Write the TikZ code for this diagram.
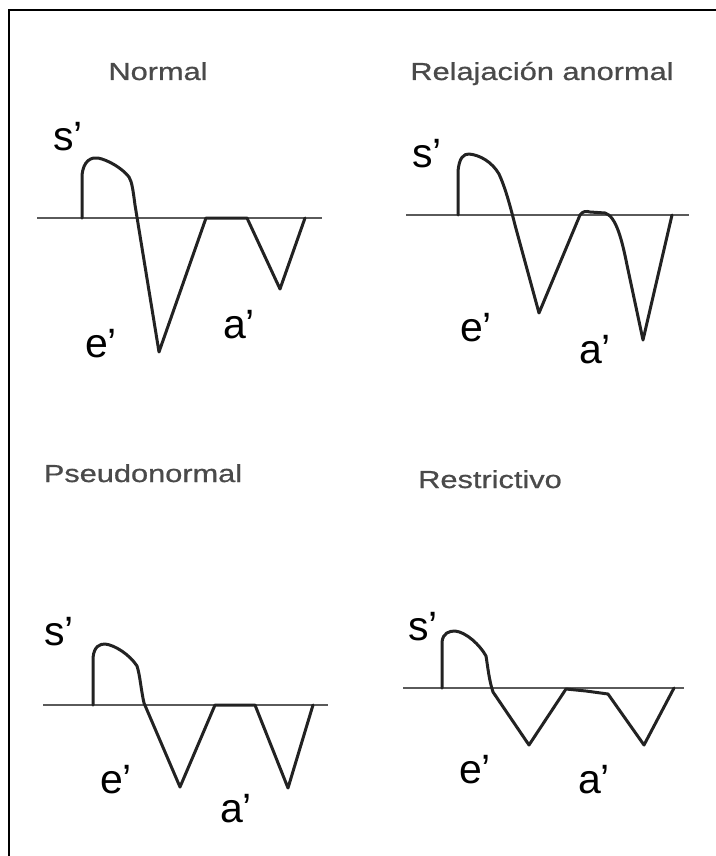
\documentclass[tikz,border=0pt]{standalone}
\usepackage{fontspec}
\setmainfont{Liberation Sans}
\newfontfamily\fuenteTitulo{Liberation Sans}[FakeBold=0.7]
\usetikzlibrary{positioning}
\definecolor{grisTitulo}{HTML}{4A4A4A}
\definecolor{grisEje}{HTML}{5A5A5A}
\definecolor{trazo}{HTML}{222222}

\begin{document}
\begin{tikzpicture}[x=0.5pt, y=-0.5pt,
		titulo/.style={anchor=base, inner sep=0pt, text=grisTitulo, xscale=1.25, font=\fuenteTitulo\fontsize{12.3}{14}\selectfont},
		onda/.style={anchor=base, inner sep=0pt, font=\fontsize{20.5}{24}\selectfont},
		eje/.style={grisEje, line width=1pt},
		curva/.style={trazo, line width=1.5pt, line join=round, line cap=round}]
			\useasboundingbox (0,0) rectangle (716,856);
			\draw[line width=1pt] (9,856) -- (9,10.5) -- (716,10.5);

			% Normal
			\node[titulo] (tNormal) at (158,80) {Normal};
			\draw[eje] (37,218) -- (322,218);
			\draw[curva] (82,218) -- (82,176) .. controls (83,160) and (92,157) .. (98,158)
				.. controls (108,160) and (122,168) .. (129,177)
				.. controls (132,182) and (133,190) .. (135,205)
				-- (159,352) -- (206,218) -- (247,218) -- (280,289) -- (305,218);
			\node[onda] (sNormal) at (68,150) {s’};
			\node[onda] (eNormal) at (101,357) {e’};
			\node[onda] (aNormal) at (239,338) {a’};

			% Relajacion anormal
			\node[titulo] (tRelajacion) at (542,80) {Relajación anormal};
			\draw[eje] (406,215) -- (689,215);
			\draw[curva] (458,215) -- (458,172) .. controls (459,157) and (464,154) .. (469,154)
				.. controls (480,155) and (492,162) .. (499,174)
				.. controls (505,187) and (510,205) .. (515,225)
				-- (539,313) -- (580,215) .. controls (583,211) and (586,211) .. (590,212)
				-- (605,213) .. controls (616,216) and (622,240) .. (627,265)
				-- (643,340) -- (672,215);
			\node[onda] (sRelajacion) at (427,167) {s’};
			\node[onda] (eRelajacion) at (476,341) {e’};
			\node[onda] (aRelajacion) at (595,363) {a’};

			% Pseudonormal
			\node[titulo] (tPseudo) at (143,482) {Pseudonormal};
			\draw[eje] (43,705) -- (328,705);
			\draw[curva] (93,705) -- (93,658) .. controls (94,646) and (100,644) .. (105,644)
				.. controls (115,645) and (130,655) .. (137,666)
				.. controls (140,675) and (141,690) .. (144,703)
				-- (180,787) -- (215,705) -- (255,705) -- (288,788) -- (313,705);
			\node[onda] (sPseudo) at (59,645) {s’};
			\node[onda] (ePseudo) at (116,793) {e’};
			\node[onda] (aPseudo) at (236,822) {a’};

			% Restrictivo
			\node[titulo] (tRestrictivo) at (490,488) {Restrictivo};
			\draw[eje] (403,688) -- (684,688);
			\draw[curva] (442,688) -- (442,642) .. controls (443,633) and (449,631) .. (455,631)
				.. controls (466,632) and (480,645) .. (486,656)
				.. controls (488,668) and (489,680) .. (493,692)
				-- (529,745) -- (566,689) -- (586,691) -- (608,694) -- (644,745) -- (674,688);
			\node[onda] (sRestrictivo) at (423,640) {s’};
			\node[onda] (eRestrictivo) at (475,783) {e’};
			\node[onda] (aRestrictivo) at (594,793) {a’};
		\end{tikzpicture}
\end{document}
